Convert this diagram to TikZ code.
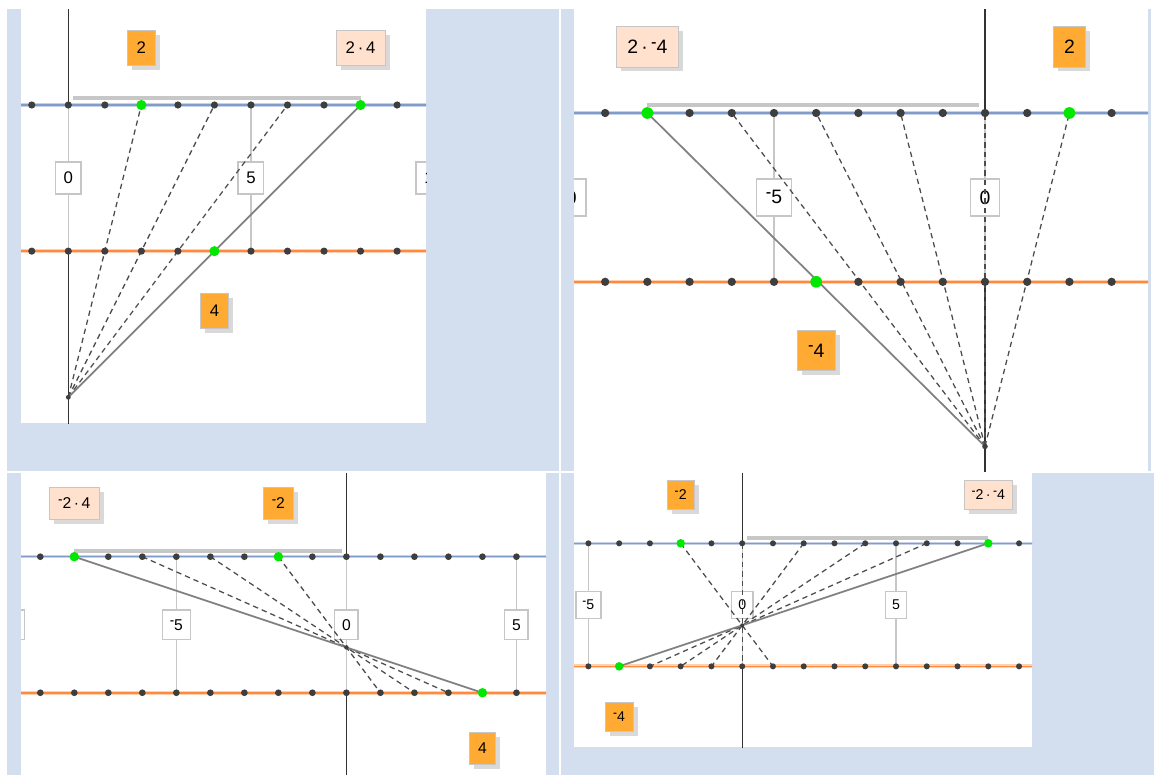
\documentclass[tikz,border=0pt]{standalone}
\usepackage{graphicx}
\usepackage{fontspec}
\setmainfont{Liberation Sans}
\usepackage{tikz}
\usetikzlibrary{shadows}

\definecolor{panelbg}{HTML}{D3DEEE}
\definecolor{factorfill}{HTML}{FFAB33}
\definecolor{productfill}{HTML}{FFE1CE}
\definecolor{boxedge}{HTML}{C6C6C6}
\definecolor{blueline}{HTML}{7F9CCB}
\definecolor{orangeline}{HTML}{FF8A3D}
\definecolor{tickdot}{HTML}{3E3E3E}
\definecolor{hitdot}{HTML}{00E800}

\newcommand\mn{\raisebox{0.28em}{\scalebox{0.85}[1]{-}}}

\tikzset{
  factor/.style={draw=boxedge, fill=factorfill, minimum height=26pt, inner xsep=7pt,
    drop shadow={shadow xshift=3.5pt, shadow yshift=-3.5pt, fill=black!15, opacity=1}},
  product/.style={factor, fill=productfill},
  ticklabel/.style={draw=boxedge, line width=1.2pt, fill=white, minimum height=24pt, inner xsep=6pt},
  blueglow/.style={line width=2.6pt, draw=blueline!45},
  bluecore/.style={line width=0.9pt, draw=blueline},
  orangeglow/.style={line width=2.8pt, draw=orangeline!40},
  orangecore/.style={line width=1.2pt, draw=orangeline},
  axisline/.style={line width=0.9pt, draw=black!80},
  tickline/.style={line width=0.8pt, draw=black!22},
  spanbar/.style={line width=3pt, draw=black!22},
  guide/.style={line width=0.95pt, draw=black!70, dash pattern=on 4pt off 3pt},
  result/.style={line width=1.3pt, draw=black!50}
}

\begin{document}
\begin{tikzpicture}[x=0.75pt, y=-0.75pt, every node/.style={font=\fontsize{12.6}{15}\selectfont}]
  \useasboundingbox (0,0) rectangle (1154,775);
  \fill[white] (0,0) rectangle (1154,775);
  % backdrop
  \fill[panelbg] (7,9) rectangle (559,471);
  \fill[panelbg] (561,9) rectangle (1151,471);
  \fill[panelbg] (7,473) rectangle (559,775);
  \fill[panelbg] (561,473) rectangle (1154,775);

  % the two number lines, ticks from #1 to #2
  \def\numberlines#1#2{%
    \foreach \k in {-10,-5,...,10} \draw[tickline] (\k,0) -- (\k,4);
    \draw[axisline] (0,-5) -- (0,0) (0,4) -- (0,12);
    \draw[blueglow] (#1,0) -- (#2,0); \draw[bluecore] (#1,0) -- (#2,0);
    \draw[orangeglow] (#1,4) -- (#2,4); \draw[orangecore] (#1,4) -- (#2,4);
    \foreach \k/\t in {-10/\mn10,-5/\mn5,0/0,5/5,10/10}
      \node[ticklabel] (l\k) at (\k,2) {\t};
    \foreach \k in {#1,...,#2} {\coordinate (b\k) at (\k,0); \coordinate (o\k) at (\k,4);}
  }
  \def\numberdots#1#2{%
    \foreach \k in {#1,...,#2} {\fill[tickdot] (b\k) circle (2.7pt); \fill[tickdot] (o\k) circle (2.7pt);}
  }

  % 2 * 4
  \begin{scope}
    \clip (21,9) rectangle (426,423);
    \fill[white] (21,9) rectangle (426,423);
    \begin{scope}[shift={(68.3,105)}, scale=1, transform shape, x=27.4pt, y=-27.4pt]
      \numberlines{-2}{10}
      \draw[spanbar] (0.14,-0.18) -- (8,-0.18);
      \coordinate (V) at (0,8);
      \foreach \k in {2,4,6} \draw[guide] (V) -- (b\k);
      \draw[result] (V) -- (b8);
      \numberdots{-2}{10}
      \foreach \p in {b2,b8,o4} \fill[hitdot] (\p) circle (3.8pt);
      \fill[tickdot] (V) circle (1.8pt);
      \node[factor] (fa) at (2,-1.57) {2};
      \node[product] (pr) at (8,-1.57) {2\,·\,4};
      \node[factor] (fb) at (4,5.63) {4};
    \end{scope}
  \end{scope}

  % 2 * -4
  \begin{scope}
    \clip (574,9) rectangle (1148,471);
    \fill[white] (574,9) rectangle (1148,471);
    \begin{scope}[shift={(985,113)}, scale=1.155, transform shape, x=27.4pt, y=-27.4pt]
      \numberlines{-11}{5}
      \draw[spanbar] (-8,-0.18) -- (-0.14,-0.18);
      \coordinate (V) at (0,7.9);
      \foreach \k in {-6,-4,-2,0,2} \draw[guide] (V) -- (b\k);
      \draw[result] (V) -- (b-8);
      \numberdots{-11}{5}
      \foreach \p in {b-8,b2,o-4} \fill[hitdot] (\p) circle (3.8pt);
      \fill[tickdot] (V) circle (1.8pt);
      \node[product] (pr) at (-8,-1.57) {2\,·\,\mn4};
      \node[factor] (fa) at (2,-1.57) {2};
      \node[factor] (fb) at (-4,5.63) {\mn4};
    \end{scope}
  \end{scope}

  % -2 * 4
  \begin{scope}
    \clip (21,473) rectangle (546,775);
    \fill[white] (21,473) rectangle (546,775);
    \begin{scope}[shift={(346.4,556.7)}, scale=0.931, transform shape, x=27.4pt, y=-27.4pt]
      \numberlines{-11}{7}
      \draw[spanbar] (-8,-0.18) -- (-0.14,-0.18);
      \coordinate (V) at (0,8/3);
      \foreach \k/\j in {-2/1,-4/2,-6/3} \draw[guide] (b\k) -- (o\j);
      \draw[result] (b-8) -- (o4);
      \numberdots{-11}{7}
      \foreach \p in {b-8,b-2,o4} \fill[hitdot] (\p) circle (3.8pt);
      \fill[tickdot] (V) circle (1.8pt);
      \node[product] (pr) at (-8,-1.57) {\mn2\,·\,4};
      \node[factor] (fa) at (-2,-1.57) {\mn2};
      \node[factor] (fb) at (4,5.63) {4};
    \end{scope}
  \end{scope}

  % -2 * -4
  \begin{scope}
    \clip (574,473) rectangle (1032,747);
    \fill[white] (574,473) rectangle (1032,747);
    \begin{scope}[shift={(742.2,543.3)}, scale=0.842, transform shape, x=27.4pt, y=-27.4pt]
      \numberlines{-7}{11}
      \draw[spanbar] (0.14,-0.18) -- (8,-0.18);
      \coordinate (V) at (0,8/3);
      \foreach \k/\j in {-2/1,0/0,2/-1,4/-2,6/-3} \draw[guide] (b\k) -- (o\j);
      \draw[result] (b8) -- (o-4);
      \numberdots{-7}{11}
      \foreach \p in {b-2,b8,o-4} \fill[hitdot] (\p) circle (3.8pt);
      \fill[tickdot] (V) circle (1.8pt);
      \node[factor] (fa) at (-2,-1.57) {\mn2};
      \node[product] (pr) at (8,-1.57) {\mn2\,·\,\mn4};
      \node[factor] (fb) at (-4,5.63) {\mn4};
    \end{scope}
  \end{scope}
\end{tikzpicture}
\end{document}
